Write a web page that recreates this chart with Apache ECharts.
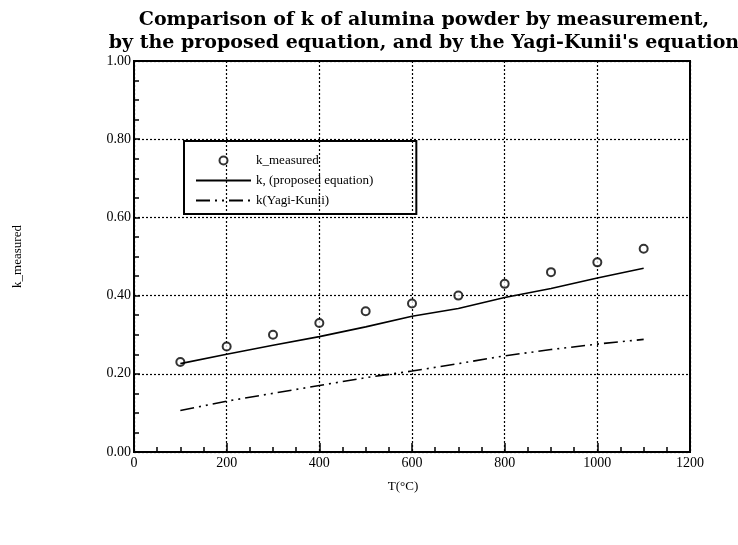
<!DOCTYPE html>
<html>
<head>
<meta charset="utf-8">
<script src="https://cdn.jsdelivr.net/npm/echarts@6/dist/echarts.min.js"></script>
<style>
    html, body { margin: 0; padding: 0; background: #fff; }
    #chart { width: 738px; height: 545px; }
</style>
</head>
<body>
<div id="chart"></div>
<script>
// temperatures (deg C)
let temps = [100, 200, 300, 400, 500, 600, 700, 800, 900, 1000, 1100];
// k measured (circles)
let k_measured = [0.23, 0.27, 0.30, 0.33, 0.36, 0.38, 0.40, 0.43, 0.46, 0.485, 0.52];
// k from the proposed equation
let k_proposed = [0.226, 0.250, 0.273, 0.295, 0.320, 0.347, 0.367, 0.395, 0.418, 0.445, 0.470];
// k from the Yagi-Kunii equation
let k_yagi = [0.106, 0.130, 0.150, 0.170, 0.190, 0.207, 0.226, 0.246, 0.262, 0.276, 0.288];

let serif = 'Liberation Serif';

let pairs = function (ys) {
    return temps.map((t, i) => [t, ys[i]]);
};

let chart = echarts.init(document.getElementById('chart'));

let option = {
    backgroundColor: '#fff',
    animation: false,
    color: ['#000', '#000', '#000'],
    title: {
        text: 'Comparison of k of alumina powder by measurement,\nby the proposed equation, and by the Yagi-Kunii\'s equation',
        left: 419,
        top: 4,
        textAlign: 'center',
        textStyle: {
            fontFamily: 'DejaVu Serif',
            fontWeight: 'bold',
            fontSize: 19,
            lineHeight: 23,
            color: '#000'
        }
    },
    grid: {
        left: 134,
        right: 48,
        top: 61,
        bottom: 93,
        show: true,
        borderColor: '#000',
        borderWidth: 2,
        containLabel: false
    },
    legend: {
        orient: 'vertical',
        left: 184,
        top: 141,
        padding: [13, 43, 7, 11],
        itemGap: 7,
        itemWidth: 55,
        itemHeight: 8,
        borderColor: '#000',
        borderWidth: 2,
        textStyle: {fontFamily: serif, fontSize: 13, color: '#000'},
        data: [
            {name: 'k_measured', icon: 'emptyCircle'},
            {name: 'k, (proposed equation)', itemStyle: {opacity: 0}},
            {name: 'k(Yagi-Kunii)', itemStyle: {opacity: 0}}
        ]
    },
    xAxis: {
        type: 'value',
        min: 0,
        max: 1200,
        interval: 200,
        name: 'T(\u00b0C)',
        nameLocation: 'middle',
        nameGap: 28,
        nameTextStyle: {fontFamily: serif, fontSize: 13, color: '#000', padding: [0, 18, 0, 0]},
        axisLine: {lineStyle: {color: '#000', width: 2}},
        axisTick: {inside: true, length: 9, lineStyle: {color: '#000', width: 1.5}},
        minorTick: {show: true, splitNumber: 4, length: 5, lineStyle: {color: '#000', width: 1.5}},
        axisLabel: {fontFamily: serif, fontSize: 14, color: '#000', margin: 4, formatter: v => String(v)},
        splitLine: {show: true, lineStyle: {color: '#000', type: [2, 2], width: 1.2}}
    },
    yAxis: {
        type: 'value',
        min: 0,
        max: 1,
        interval: 0.2,
        name: 'k_measured',
        nameLocation: 'middle',
        nameGap: 110,
        nameTextStyle: {fontFamily: serif, fontSize: 13, color: '#000'},
        axisLine: {lineStyle: {color: '#000', width: 2}},
        axisTick: {inside: true, length: 6, lineStyle: {color: '#000', width: 1.5}},
        minorTick: {show: true, splitNumber: 4, length: 5, lineStyle: {color: '#000', width: 1.5}},
        axisLabel: {
            fontFamily: serif, fontSize: 14, color: '#000', margin: 3,
            formatter: v => v.toFixed(2)
        },
        splitLine: {show: true, lineStyle: {color: '#000', type: [2, 2], width: 1.2}}
    },
    series: [
        {
            name: 'k_measured',
            type: 'scatter',
            data: pairs(k_measured),
            symbol: 'emptyCircle',
            symbolSize: 8,
            itemStyle: {color: '#000', borderColor: '#000', borderWidth: 1.6}
        },
        {
            name: 'k, (proposed equation)',
            type: 'line',
            data: pairs(k_proposed),
            symbol: 'none',
            itemStyle: {color: '#000'},
            lineStyle: {color: '#000', width: 1.6}
        },
        {
            name: 'k(Yagi-Kunii)',
            type: 'line',
            data: pairs(k_yagi),
            symbol: 'none',
            itemStyle: {color: '#000'},
            lineStyle: {color: '#000', width: 1.6, type: [14, 5, 2, 5, 2, 5]}
        }
    ]
};

chart.setOption(option);
</script>
</body>
</html>
